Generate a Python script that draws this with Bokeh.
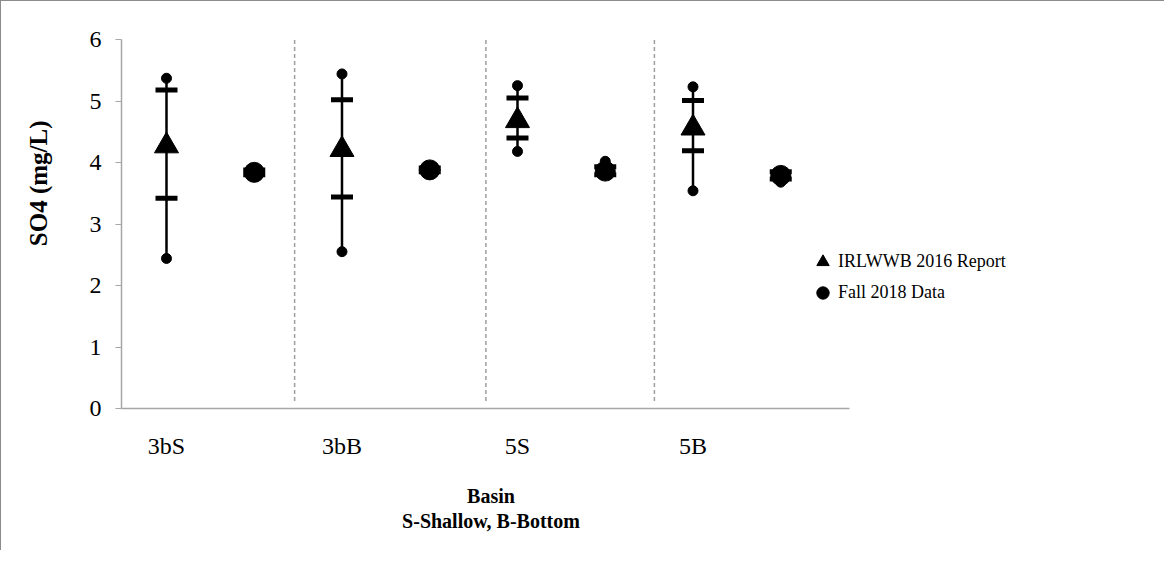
from bokeh.plotting import figure
from bokeh.models import Legend, LegendItem, ColumnDataSource, FixedTicker, Range1d
from bokeh.embed import file_html
from bokeh.resources import INLINE

# ---- data ----
categories = ["3bS", "3bB", "5S", "5B"]
pos_2016 = [1, 2, 3, 4]
pos_2018 = [1.5, 2.5, 3.5, 4.5]

r16_mean = [4.27, 4.21, 4.68, 4.56]
r16_sd_hi = [5.18, 5.02, 5.05, 5.01]
r16_sd_lo = [3.42, 3.44, 4.40, 4.19]
r16_max = [5.37, 5.44, 5.25, 5.23]
r16_min = [2.44, 2.55, 4.18, 3.54]

f18_mean = [3.84, 3.88, 3.86, 3.79]
f18_sd_hi = [3.88, 3.91, 3.93, 3.85]
f18_sd_lo = [3.80, 3.85, 3.80, 3.73]
f18_max = [3.88, 3.92, 4.02, 3.85]
f18_min = [3.80, 3.85, 3.80, 3.68]

separators = [1.73, 2.82, 3.78]
y_ticks = [0, 1, 2, 3, 4, 5, 6]

FONT = "Liberation Serif"
AXIS_GRAY = "#A6A6A6"
NB = "\u00a0"

p = figure(width=1164, height=550, output_backend="svg", toolbar_location=None,
           x_range=Range1d(0.7436, 6.3504), y_range=Range1d(0, 6),
           min_border_left=120, min_border_top=38, min_border_bottom=143,
           min_border_right=60)
p.styles = {"border-left": "1px solid #8C8C8C", "border-top": "1px solid #8C8C8C"}
p.outline_line_color = None
p.xgrid.grid_line_color = None
p.ygrid.grid_line_color = None

# separators
p.segment(x0=separators, y0=[0.12] * 3, x1=separators, y1=[6] * 3,
          line_color="#9E9E9E", line_width=1.5, line_dash="4 3")

def draw_series(xs, mean, sd_hi, sd_lo, mx, mn, marker, size):
    src = ColumnDataSource(dict(x=xs, mean=mean, hi=sd_hi, lo=sd_lo, mx=mx, mn=mn))
    p.segment(x0="x", y0="mn", x1="x", y1="mx", source=src, line_color="black", line_width=2.5)
    p.scatter(x="x", y="mx", source=src, marker="circle", size=10, color="black")
    p.scatter(x="x", y="mn", source=src, marker="circle", size=10, color="black")
    p.scatter(x="x", y="hi", source=src, marker="dash", size=22, line_width=5, line_color="black")
    p.scatter(x="x", y="lo", source=src, marker="dash", size=22, line_width=5, line_color="black")
    return p.scatter(x="x", y="mean", source=src, marker=marker, size=size,
                     color="black")

r_tri = draw_series(pos_2016, r16_mean, r16_sd_hi, r16_sd_lo, r16_max, r16_min, "triangle", 24)
r_circ = draw_series(pos_2018, f18_mean, f18_sd_hi, f18_sd_lo, f18_max, f18_min, "circle", 20)

# axes
p.xaxis.bounds = (0.7436, 4.892)
p.xaxis.ticker = FixedTicker(ticks=pos_2016)
p.xaxis.major_label_overrides = {x: c for x, c in zip(pos_2016, categories)}
p.xaxis.major_tick_line_color = None
p.xaxis.minor_tick_line_color = None
p.xaxis.axis_line_color = AXIS_GRAY
p.xaxis.axis_line_width = 1.5
p.xaxis.major_label_standoff = 18
pad = NB * 49
p.xaxis.axis_label = "Basin" + pad + "\n" + "S-Shallow, B-Bottom" + pad
p.xaxis.axis_label_standoff = 23
p.xaxis.axis_label_text_font_size = "20px"
p.xaxis.axis_label_text_line_height = 1.15

p.yaxis.ticker = FixedTicker(ticks=y_ticks)
p.yaxis.minor_tick_line_color = None
p.yaxis.major_tick_out = 6
p.yaxis.major_tick_in = 0
p.yaxis.major_tick_line_color = AXIS_GRAY
p.yaxis.axis_line_color = AXIS_GRAY
p.yaxis.axis_line_width = 1.5
p.yaxis.major_label_standoff = 14
p.yaxis.axis_label = NB * 13 + "SO4 (mg/L)"
p.yaxis.axis_label_standoff = 35
p.yaxis.axis_label_text_font_size = "25px"

for ax in (p.xaxis, p.yaxis):
    ax.major_label_text_font = FONT
    ax.major_label_text_font_size = "24px"
    ax.major_label_text_color = "black"
    ax.axis_label_text_font = FONT
    ax.axis_label_text_font_style = "bold"
    ax.axis_label_text_color = "black"

legend = Legend(items=[LegendItem(label="IRLWWB 2016 Report", renderers=[r_tri]),
                       LegendItem(label="Fall 2018 Data", renderers=[r_circ])],
                location=(686, 100))
legend.label_text_font = FONT
legend.label_text_font_size = "18px"
legend.label_text_color = "black"
legend.border_line_color = None
legend.background_fill_alpha = 0
legend.padding = 0
legend.margin = 0
legend.spacing = 0
legend.glyph_width = 31
legend.glyph_height = 31
legend.label_standoff = 0
p.add_layout(legend, "center")

open("out.html", "w").write(file_html(p, INLINE))
